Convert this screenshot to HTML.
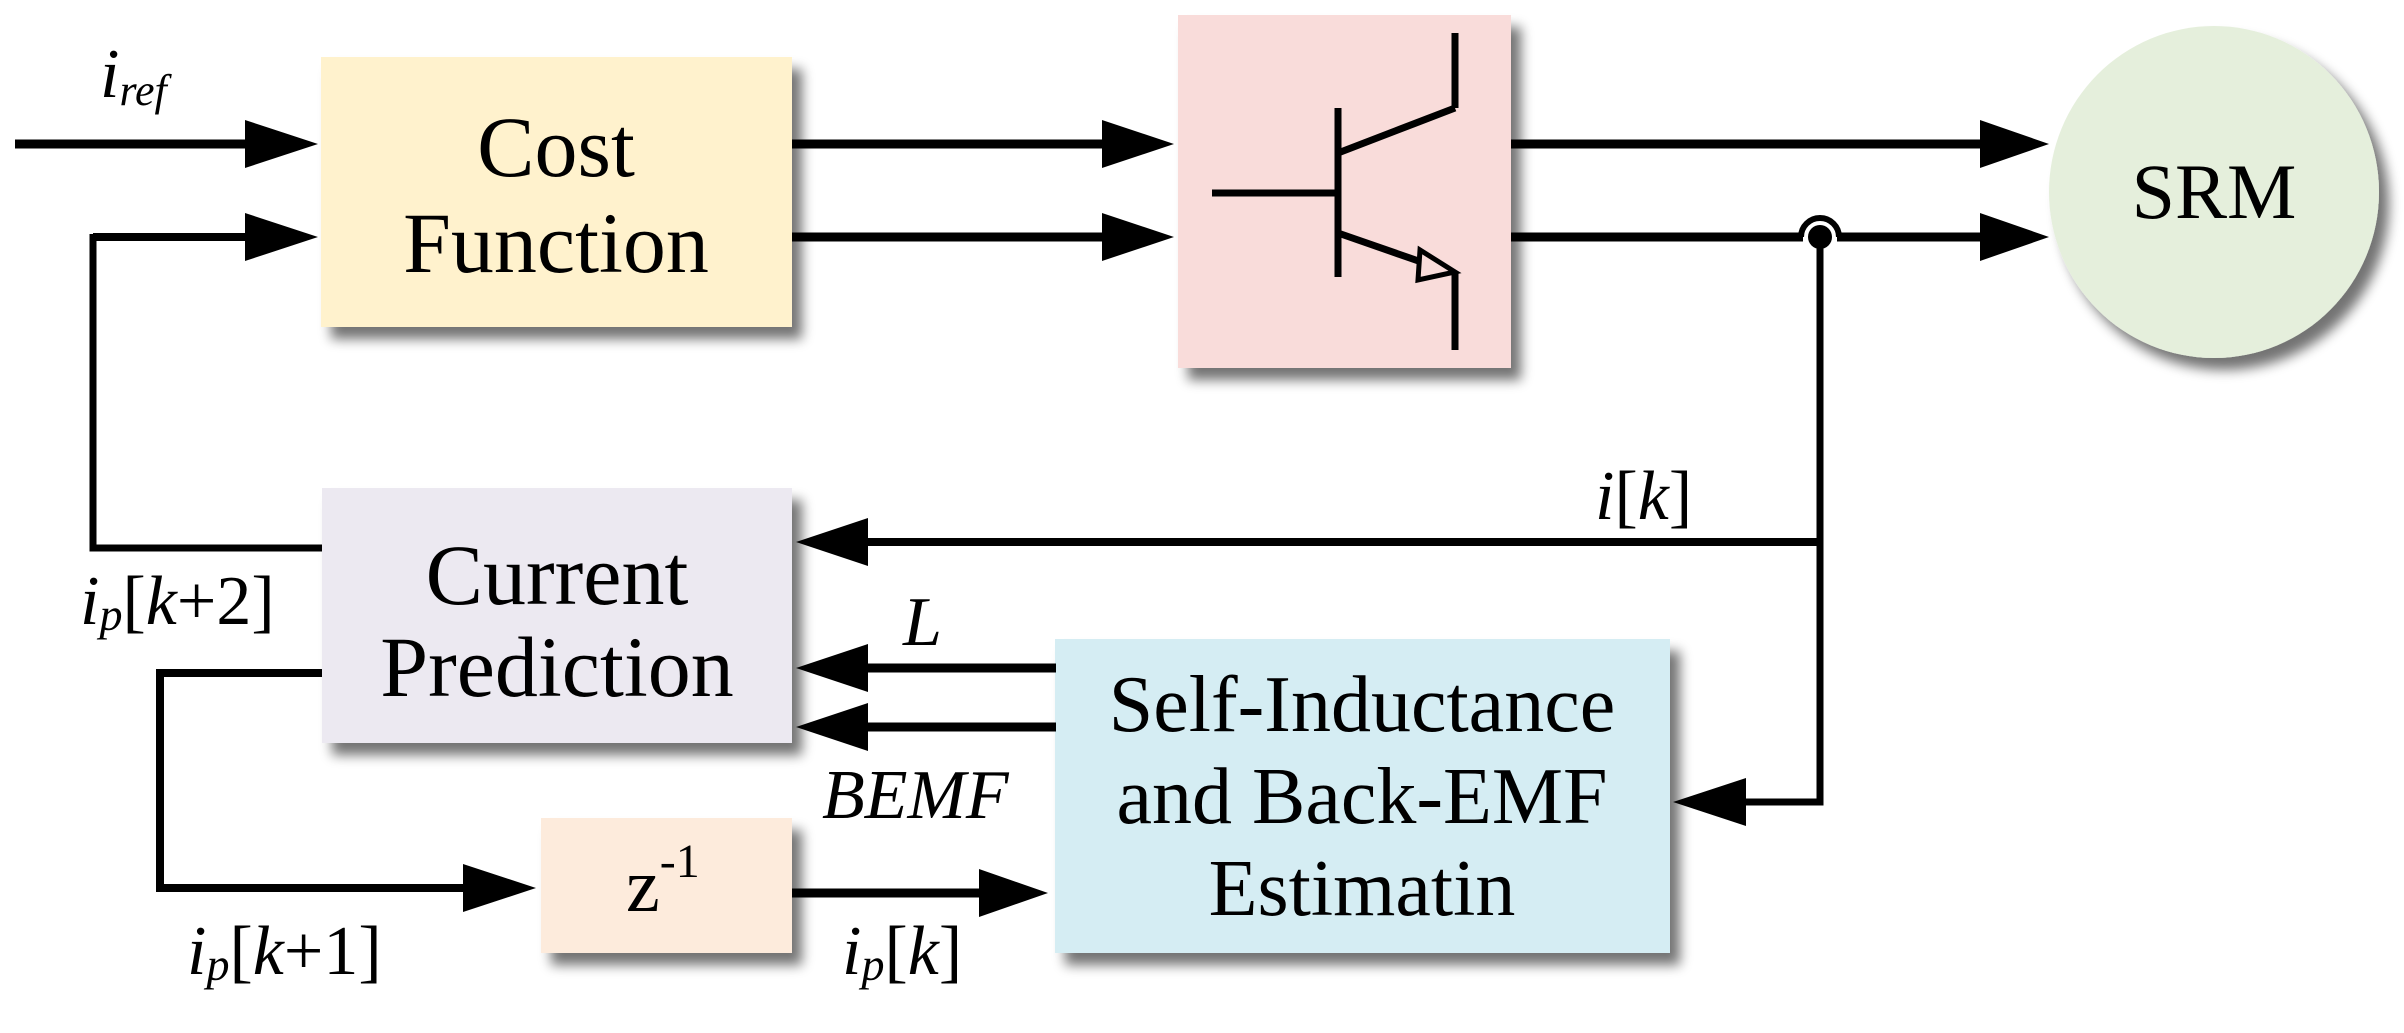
<!DOCTYPE html>
<html><head><meta charset="utf-8"><style>
html,body{margin:0;padding:0;background:#fff;}
svg{display:block;}
text{font-family:"Liberation Serif",serif;fill:#000;}
.t{font-size:86px;text-anchor:middle;}
.s{font-size:80px;text-anchor:middle;}
.l{font-size:70px;font-style:italic;}
</style></head><body>
<svg width="2404" height="1033" viewBox="0 0 2404 1033" xmlns="http://www.w3.org/2000/svg">
<defs>
<filter id="sh" x="-10%" y="-10%" width="130%" height="130%">
<feGaussianBlur in="SourceAlpha" stdDeviation="6"/>
<feOffset dx="10" dy="12" result="o"/>
<feComponentTransfer><feFuncA type="linear" slope="0.55"/></feComponentTransfer>
<feMerge><feMergeNode/><feMergeNode in="SourceGraphic"/></feMerge>
</filter>
</defs>
<rect x="321" y="57" width="471" height="270" fill="#fff2cd" filter="url(#sh)"/>
<rect x="1178" y="15" width="333" height="353" fill="#f9dcda" filter="url(#sh)"/>
<ellipse cx="2214" cy="192" rx="165" ry="166" fill="#e5efdc" filter="url(#sh)"/>
<rect x="322" y="488" width="470" height="255" fill="#ece9f1" filter="url(#sh)"/>
<rect x="541" y="818" width="251" height="135" fill="#fdebdc" filter="url(#sh)"/>
<rect x="1055" y="639" width="615" height="314" fill="#d5edf3" filter="url(#sh)"/>

<g stroke="#000" fill="none" stroke-linecap="butt">
<line x1="15" y1="144" x2="250" y2="144" stroke-width="9"/>
<line x1="93" y1="237" x2="250" y2="237" stroke-width="8"/>
<polyline points="93,234 93,548 322,548" stroke-width="7"/>
<line x1="792" y1="144" x2="1105" y2="144" stroke-width="9"/>
<line x1="792" y1="237" x2="1105" y2="237" stroke-width="9"/>
<line x1="1511" y1="144" x2="1985" y2="144" stroke-width="9"/>
<line x1="1511" y1="237" x2="1803" y2="237" stroke-width="9"/>
<line x1="1837" y1="237" x2="1985" y2="237" stroke-width="9"/>
<path d="M1801,237 A19,19 0 0 1 1839,237" stroke-width="6"/>
<polyline points="1820,237 1820,802 1740,802" stroke-width="7"/>
<line x1="1820" y1="542" x2="862" y2="542" stroke-width="8"/>
<line x1="1056" y1="668" x2="862" y2="668" stroke-width="9"/>
<line x1="1056" y1="727" x2="862" y2="727" stroke-width="9"/>
<polyline points="322,673 160,673 160,888 468,888" stroke-width="8"/>
<line x1="792" y1="893" x2="985" y2="893" stroke-width="9"/>
<line x1="1455" y1="33" x2="1455" y2="108" stroke-width="7"/>
<line x1="1455" y1="108" x2="1338" y2="153" stroke-width="7"/>
<line x1="1338" y1="108" x2="1338" y2="277" stroke-width="7"/>
<line x1="1212" y1="193" x2="1338" y2="193" stroke-width="7"/>
<line x1="1338" y1="233" x2="1430" y2="265" stroke-width="7"/>
<line x1="1455" y1="273" x2="1455" y2="350" stroke-width="7"/>
<polygon points="1455,272 1420,250 1418,280" stroke-width="5" fill="#f9dcda"/>
</g>
<circle cx="1820" cy="237" r="12" fill="#000"/>
<g fill="#000">
<polygon points="318,144 245,120 245,168"/>
<polygon points="318,237 245,213 245,261"/>
<polygon points="1174,144 1102,120 1102,168"/>
<polygon points="1174,237 1102,213 1102,261"/>
<polygon points="2049,144 1980,120 1980,168"/>
<polygon points="2049,237 1980,213 1980,261"/>
<polygon points="796,542 868,518 868,566"/>
<polygon points="796,668 868,644 868,692"/>
<polygon points="796,727 868,703 868,751"/>
<polygon points="536,888 463,864 463,912"/>
<polygon points="1048,893 979,869 979,917"/>
<polygon points="1673,802 1746,778 1746,826"/>
</g>
<text class="t" x="556" y="176">Cost</text>
<text class="t" x="556" y="272">Function</text>
<text x="2214" y="218" style="font-size:78px;text-anchor:middle">SRM</text>
<text class="t" x="557" y="604">Current</text>
<text class="t" x="557" y="696">Prediction</text>
<text class="s" x="1362" y="731">Self-Inductance</text>
<text class="s" x="1362" y="823">and Back-EMF</text>
<text class="s" x="1362" y="915">Estimatin</text>
<text x="626" y="911" style="font-size:76px">z<tspan dy="-34" font-size="48">-1</tspan></text>
<text class="l" x="100" y="97">i<tspan font-size="44" dy="8">ref</tspan></text>
<text class="l" x="1595" y="519">i<tspan font-style="normal">[</tspan>k<tspan font-style="normal">]</tspan></text>
<text class="l" x="80" y="624">i<tspan font-size="46" dy="6">p</tspan><tspan dy="-6" font-style="normal">[</tspan>k<tspan font-style="normal">+2]</tspan></text>
<text class="l" x="903" y="645">L</text>
<text class="l" x="822" y="818">BEMF</text>
<text class="l" x="187" y="974">i<tspan font-size="46" dy="6">p</tspan><tspan dy="-6" font-style="normal">[</tspan>k<tspan font-style="normal">+1]</tspan></text>
<text class="l" x="842" y="974">i<tspan font-size="46" dy="6">p</tspan><tspan dy="-6" font-style="normal">[</tspan>k<tspan font-style="normal">]</tspan></text>
</svg>
</body></html>
